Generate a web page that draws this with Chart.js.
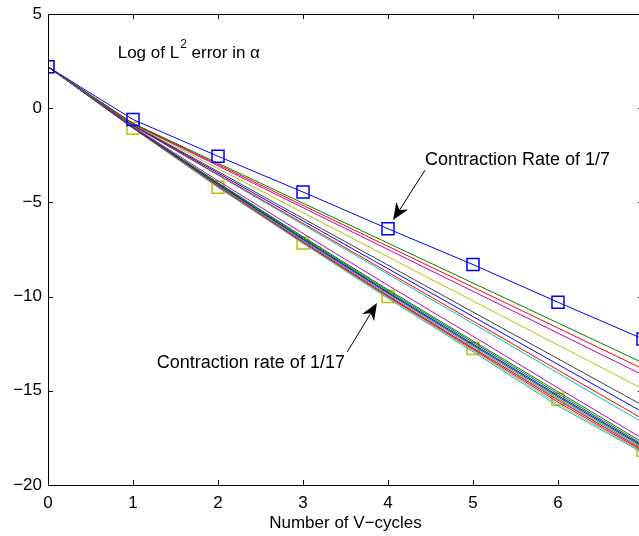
<!DOCTYPE html>
<html>
<head>
<meta charset="utf-8">
<title>V-cycle convergence</title>
<script src="https://cdn.jsdelivr.net/npm/chart.js@4.4.1/dist/chart.umd.min.js"></script>
<style>
  html, body { margin: 0; padding: 0; background: #fff; overflow: hidden; }
  #wrap { width: 643px; height: 536px; }
</style>
</head>
<body>
<div id="wrap"><canvas id="errChart" width="643" height="536"></canvas></div>
<script>
const cycles = [0, 1, 2, 3, 4, 5, 6, 7];
const yTicks = [5, 0, -5, -10, -15, -20];

// log of L2 error per run (first: rate 1/7, last: rate 1/17)
const run01 = [2.2, -0.6, -2.55, -4.45, -6.4, -8.3, -10.3, -12.25];
const run02 = [2.2, -0.8, -2.92, -5.04, -7.16, -9.28, -11.4, -13.52];
const run03 = [2.2, -0.82, -2.99, -5.16, -7.33, -9.5, -11.67, -13.84];
const run04 = [2.2, -0.84, -3.06, -5.28, -7.5, -9.72, -11.94, -14.16];
const run05 = [2.2, -0.86, -3.2, -5.54, -7.89, -10.23, -12.57, -14.91];
const run06 = [2.2, -0.88, -3.36, -5.85, -8.33, -10.82, -13.3, -15.78];
const run07 = [2.2, -0.9, -3.44, -5.98, -8.52, -11.06, -13.6, -16.14];
const run08 = [2.2, -0.92, -3.52, -6.11, -8.71, -11.3, -13.9, -16.5];
const run09 = [2.2, -0.93, -3.56, -6.18, -8.81, -11.43, -14.06, -16.69];
const run10 = [2.2, -0.98, -3.85, -6.65, -9.4, -12.1, -14.85, -17.55];
const run11 = [2.2, -1.0, -3.95, -6.82, -9.63, -12.35, -15.05, -17.75];
const run12 = [2.2, -1.0, -3.98, -6.87, -9.7, -12.43, -15.15, -17.85];
const run13 = [2.2, -1.02, -4.02, -6.93, -9.77, -12.52, -15.25, -17.92];
const run14 = [2.2, -1.02, -4.05, -6.97, -9.82, -12.58, -15.32, -17.98];
const run15 = [2.2, -1.03, -4.08, -7.02, -9.88, -12.65, -15.4, -18.05];
const run16 = [2.2, -1.04, -4.12, -7.07, -9.95, -12.73, -15.5, -18.12];
const run17 = [2.2, -1.05, -4.15, -7.12, -10.0, -12.8, -15.6, -18.2];
const run18 = [2.2, -1.05, -4.18, -7.15, -10.05, -12.86, -15.7, -18.25];
const run19 = [2.2, -1.06, -4.2, -7.18, -10.1, -12.93, -15.8, -18.3];
const run20 = [2.2, -1.06, -4.2, -7.15, -10.0, -12.75, -15.45, -18.15];

const runs = [run01, run02, run03, run04, run05, run06, run07, run08, run09, run10,
              run11, run12, run13, run14, run15, run16, run17, run18, run19, run20];
const runColors = ["#0000ff", "#008000", "#ff0000", "#bf00bf", "#bfbf00", "#404040", "#0000ff",
                   "#ff0000", "#00bfbf", "#bf00bf", "#008000", "#008000", "#0000ff", "#404040",
                   "#00bfbf", "#ff0000", "#bf00bf", "#bfbf00", "#00bfbf", "#bfbf00"];
const markedRuns = [0, 19];

const FONT = "'Liberation Sans', Arial, Helvetica, sans-serif";
const minus = v => String(v).replace("-", "\u2212");

// frame, inward ticks, text notes and arrows
const axesDecor = {
    id: "axesDecor",
    afterDatasetsDraw(chart) {
        const { ctx, chartArea: a, scales } = chart;
        const xs = scales.x, ys = scales.y;
        const px = v => xs.getPixelForValue(v);
        const py = v => ys.getPixelForValue(v);
        ctx.save();
        ctx.strokeStyle = "#000";
        ctx.lineWidth = 1;
        ctx.strokeRect(a.left + 0.5, a.top + 0.5, a.right - a.left, a.bottom - a.top);
        ctx.beginPath();
        cycles.forEach(c => {
            const x = Math.round(px(c)) + 0.5;
            ctx.moveTo(x, a.bottom); ctx.lineTo(x, a.bottom - 5);
            ctx.moveTo(x, a.top); ctx.lineTo(x, a.top + 5);
        });
        yTicks.forEach(t => {
            const y = Math.round(py(t)) + 0.5;
            ctx.moveTo(a.left, y); ctx.lineTo(a.left + 5, y);
            ctx.moveTo(a.right, y); ctx.lineTo(a.right - 5, y);
        });
        ctx.stroke();

        ctx.fillStyle = "#000";
        ctx.textBaseline = "middle";
        ctx.textAlign = "left";
        // Log of L^2 error in alpha
        let tx = px(0.82), ty = py(2.92);
        ctx.font = "17px " + FONT;
        ctx.fillText("Log of L", tx, ty);
        tx += ctx.measureText("Log of L").width + 1;
        ctx.font = "12px " + FONT;
        ctx.fillText("2", tx, ty - 8);
        tx += ctx.measureText("2").width;
        ctx.font = "17px " + FONT;
        ctx.fillText(" error in \u03b1", tx, ty);

        ctx.font = "18px " + FONT;
        ctx.fillText("Contraction Rate of 1/7", px(4.435), py(-2.76));
        ctx.fillText("Contraction rate of 1/17", px(1.28), py(-13.53));

        drawArrow(ctx, px(4.435), py(-3.29), px(4.06), py(-5.94));
        drawArrow(ctx, px(3.52), py(-12.94), px(3.87), py(-10.34));
        ctx.restore();
    }
};

function drawArrow(ctx, x1, y1, x2, y2) {
    const ang = Math.atan2(y2 - y1, x2 - x1);
    const len = 17, half = 7, back = 5;
    const cos = Math.cos(ang), sin = Math.sin(ang);
    const bx = x2 - len * cos, by = y2 - len * sin;
    ctx.beginPath();
    ctx.moveTo(x1, y1);
    ctx.lineTo(bx + back * cos, by + back * sin);
    ctx.stroke();
    ctx.beginPath();
    ctx.moveTo(x2, y2);
    ctx.lineTo(bx - half * sin, by + half * cos);
    ctx.lineTo(bx + back * cos, by + back * sin);
    ctx.lineTo(bx + half * sin, by - half * cos);
    ctx.closePath();
    ctx.fill();
}

const datasets = runs.map((vals, i) => {
    const marked = markedRuns.includes(i);
    return {
        data: vals.map((v, k) => ({ x: cycles[k], y: v })),
        borderColor: runColors[i],
        borderWidth: 1,
        pointStyle: "rect",
        pointRadius: marked ? 8.5 : 0,
        pointBorderWidth: 1.5,
        pointBorderColor: runColors[i],
        pointBackgroundColor: "rgba(0,0,0,0)",
        tension: 0
    };
});

new Chart(document.getElementById("errChart"), {
    type: "line",
    data: { datasets },
    options: {
        responsive: false,
        animation: false,
        // canvas is wider than the window, so the right side of the plot box is cut off
        layout: { autoPadding: false, padding: { top: 14, right: 0, left: 0, bottom: 0 } },
        plugins: { legend: { display: false }, tooltip: { enabled: false } },
        scales: {
            x: {
                type: "linear",
                min: 0,
                max: 7,
                grid: { display: false, drawTicks: false },
                border: { display: false },
                ticks: {
                    stepSize: 1,
                    padding: 8,
                    color: "#000",
                    font: { family: FONT, size: 17 },
                    callback: v => (v === 7 ? "" : v)
                },
                title: {
                    display: true,
                    text: "Number of V\u2212cycles",
                    color: "#000",
                    font: { family: FONT, size: 17 },
                    padding: { top: 0, bottom: 2 }
                },
                afterFit: s => { s.height = 51; s.paddingLeft = 0; s.paddingRight = 0; }
            },
            y: {
                min: -20,
                max: 5,
                grid: { display: false, drawTicks: false },
                border: { display: false },
                ticks: {
                    stepSize: 5,
                    padding: 6,
                    color: "#000",
                    font: { family: FONT, size: 17 },
                    callback: v => minus(v)
                },
                afterFit: s => { s.width = 48; s.paddingTop = 0; s.paddingBottom = 0; }
            }
        }
    },
    plugins: [axesDecor]
});
</script>
</body>
</html>
